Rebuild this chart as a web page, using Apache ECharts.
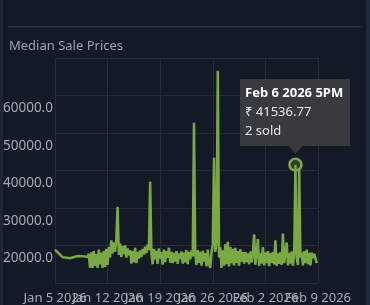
<!DOCTYPE html>
<html>
<head>
<meta charset="utf-8">
<script src="https://cdn.jsdelivr.net/npm/echarts@6/dist/echarts.min.js"></script>
<style>
  html, body { margin: 0; padding: 0; background: #141a25; }
  #main { width: 370px; height: 305px; }
</style>
</head>
<body>
<div id="main"></div>
<script>
var tickLabels = ['Jan 5 2026', 'Jan 12 2026', 'Jan 19 2026', 'Jan 26 2026', 'Feb 2 2026', 'Feb 9 2026'];

// daily points before the hourly history starts (days since Jan 5)
var earlyDays = [0, 1, 2, 3];
var earlyPrices = [18900, 16900, 16600, 17200];

// then one point every 4 hours from day 4
var denseStartDay = 4;
var denseStepHours = 4;
var densePrices = [
  17100, 17500, 16900, 17800, 14000, 18200, 14000, 18500, 14600, 17700,
  14000, 18900, 15000, 18100, 14000, 18600, 14300, 19100, 14800, 19600,
  16800, 21400, 17900, 20800, 18300, 21900, 30300, 17500, 20500, 16900,
  19800, 17700, 20100, 16800, 19200, 17400, 18800, 15200, 18500, 15600,
  19400, 15300, 18300, 16500, 18700, 16900, 19100, 17600, 19700, 18000,
  20300, 18800, 37000, 17900, 15000, 19100, 16300, 18600, 15100, 19200,
  16500, 18200, 14900, 18900, 15600, 18500, 16700, 19400, 15400, 18300,
  15300, 18000, 15700, 18500, 15100, 17900, 16400, 18400, 15200, 18100,
  15500, 18800, 15000, 18300, 16300, 18700, 17100, 52700, 17700, 14800,
  18800, 15400, 18300, 14600, 18600, 15700, 18000, 14400, 18900, 15100,
  14000, 18200, 20300, 43400, 18300, 20800, 66600, 16800, 19500, 14000,
  18700, 14600, 20300, 15000, 21000, 14400, 19600, 15300, 19100, 14700,
  19400, 15400, 18500, 14600, 19000, 15700, 18200, 15200, 18300, 15600,
  17900, 15000, 18400, 15500, 17800, 23000, 14900, 18100, 21700, 14600,
  17900, 15200, 19600, 14700, 18200, 15300, 18500, 14500, 18000, 15400,
  18300, 15000, 21400, 14600, 17900, 15100, 18200, 14800, 23200, 15300,
  18100, 20800, 14700, 18000, 15200, 18400, 14600, 17800, 41536.77, 16500,
  14800, 40600, 16800, 18200, 14700, 18500, 15300, 18900, 15000, 18000,
  14700, 18100, 16600, 17800, 17500, 15300
];

// hovered point
var tipIndex = 168;
var tipDate = 'Feb 6 2026 5PM';
var tipPrice = '₹ 41536.77';
var tipSold = '2 sold';

var green = '#7aa843';
var labelColor = '#a3abb5';
var gridColor = '#252d3a';
var font = 'Noto Sans';

var seriesData = [];
for (var i = 0; i < earlyDays.length; i++) {
  seriesData.push([earlyDays[i], earlyPrices[i]]);
}
for (var j = 0; j < densePrices.length; j++) {
  seriesData.push([denseStartDay + j * denseStepHours / 24, densePrices[j]]);
}
var tipPoint = [denseStartDay + tipIndex * denseStepHours / 24, densePrices[tipIndex]];

// the date labels overlap each other, so they are split over two axes
// (even ticks on one, odd ticks on the other) to stop echarts hiding any
function dateAxis(parity, withGrid) {
  return {
    type: 'value',
    position: 'bottom',
    gridIndex: 0,
    min: 0,
    max: 35,
    interval: 7,
    axisLine: { show: false },
    axisTick: { show: false },
    splitLine: { show: withGrid, lineStyle: { color: gridColor, width: 1 } },
    axisLabel: {
      color: labelColor,
      fontSize: 13,
      margin: 9,
      showMinLabel: true,
      showMaxLabel: true,
      formatter: function (value) {
        var k = Math.round(value / 7);
        return k % 2 === parity ? tickLabels[k] : '';
      }
    }
  };
}

var chart = echarts.init(document.getElementById('main'), null, { renderer: 'canvas' });

var option = {
  backgroundColor: '#141a25',
  animation: false,
  textStyle: { fontFamily: font },
  title: {
    text: 'Median Sale Prices',
    left: 4,
    top: 35,
    textStyle: { color: '#98a2ae', fontSize: 13, fontWeight: 'normal', fontFamily: font }
  },
  grid: { left: 50, right: 52, top: 58, bottom: 13, containLabel: false },
  xAxis: [dateAxis(0, true), dateAxis(1, false)],
  yAxis: {
    type: 'value',
    min: 10000,
    max: 70000,
    interval: 10000,
    axisLine: { show: false },
    axisTick: { show: false },
    splitLine: { show: true, lineStyle: { color: gridColor, width: 1 } },
    axisLabel: {
      color: labelColor,
      fontSize: 13.5,
      margin: 2,
      showMinLabel: false,
      showMaxLabel: false,
      verticalAlign: 'top',
      padding: [6, 0, 0, 0],
      formatter: function (value) {
        return value.toFixed(1);
      }
    }
  },
  series: [
    {
      type: 'line',
      xAxisIndex: 0,
      data: seriesData,
      showSymbol: false,
      lineStyle: { color: green, width: 2.5 },
      itemStyle: { color: green },
      markPoint: {
        symbol: 'circle',
        symbolSize: 12,
        itemStyle: { color: 'rgba(120,165,65,0.25)', borderColor: green, borderWidth: 2.5 },
        label: { show: false },
        data: [{ coord: tipPoint }]
      }
    }
  ]
};

chart.setOption(option);

// tooltip box above the hovered point
var pt = chart.convertToPixel({ xAxisIndex: 0, yAxisIndex: 0 }, tipPoint);
var boxW = 110, boxH = 67;
var bx = Math.round(pt[0] - 55), by = Math.round(pt[1] - 86);
chart.setOption({
  graphic: [
    {
      type: 'rect',
      shape: { x: bx, y: by, width: boxW, height: boxH },
      style: { fill: 'rgba(58,59,62,0.96)' },
      z: 100
    },
    {
      type: 'polygon',
      shape: { points: [[pt[0] - 7, by + boxH], [pt[0] + 7, by + boxH], [pt[0], by + boxH + 8]] },
      style: { fill: 'rgba(58,59,62,0.96)' },
      z: 100
    },
    {
      type: 'text',
      x: bx + 5, y: by + 14,
      style: { text: tipDate, fill: '#ffffff', font: 'bold 13px "Noto Sans"', verticalAlign: 'middle' },
      z: 101
    },
    {
      type: 'text',
      x: bx + 5, y: by + 33,
      style: { text: tipPrice, fill: '#e6e6e6', font: '13px "Noto Sans"', verticalAlign: 'middle' },
      z: 101
    },
    {
      type: 'text',
      x: bx + 5, y: by + 52,
      style: { text: tipSold, fill: '#e6e6e6', font: '13px "Noto Sans"', verticalAlign: 'middle' },
      z: 101
    },
    // panel edges and header rule
    { type: 'rect', shape: { x: 0, y: 0, width: 3, height: 305 }, style: { fill: '#1c2634' }, z: 90 },
    { type: 'rect', shape: { x: 366, y: 0, width: 4, height: 305 }, style: { fill: '#1e2939' }, z: 90 },
    { type: 'rect', shape: { x: 8, y: 26, width: 353, height: 1.5 }, style: { fill: '#2b3340' }, z: 90 }
  ]
});
</script>
</body>
</html>
